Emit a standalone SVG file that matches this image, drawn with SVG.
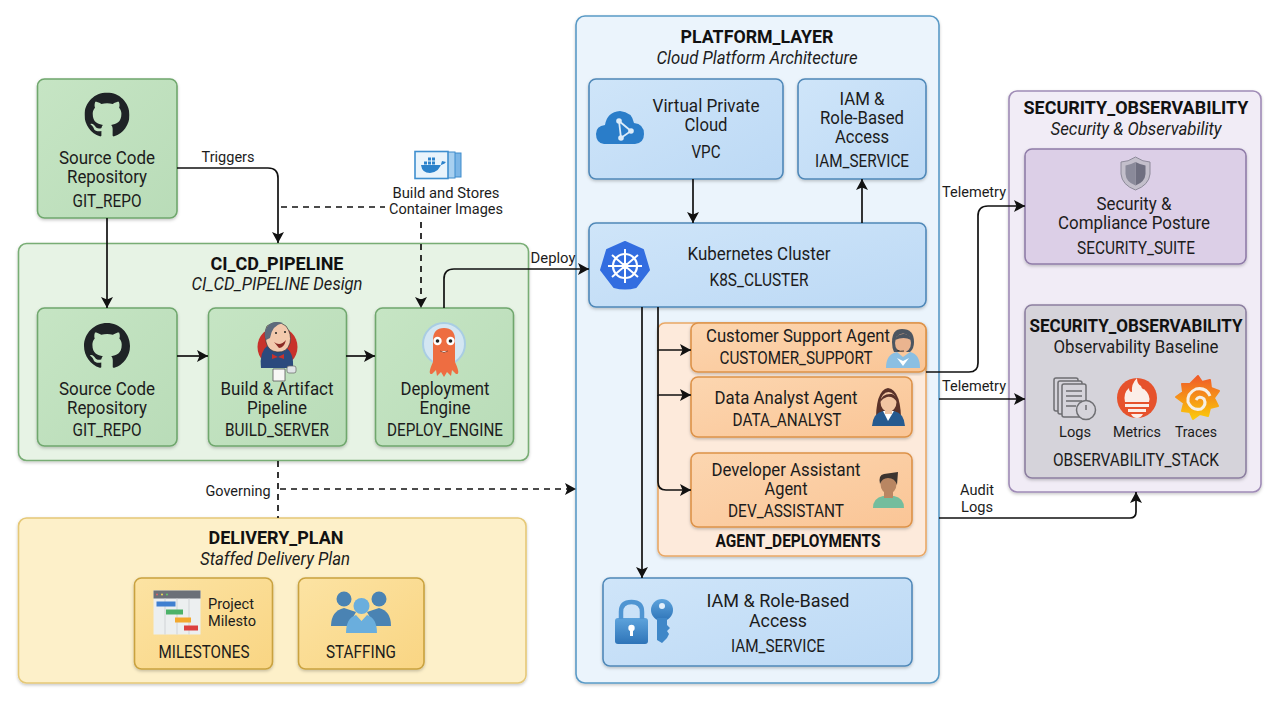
<svg xmlns="http://www.w3.org/2000/svg" xmlns:xlink="http://www.w3.org/1999/xlink" width="1280" height="714" viewBox="0 0 1280 714">
<style>
text{font-family:Roboto,"Liberation Sans",sans-serif;fill:#1c1c1c;text-anchor:middle}
.n{font-size:18px}
.c{font-size:17.5px}
.t{font-size:19px;font-weight:700;fill:#111}
.s{font-size:18px;font-style:italic}
.l{font-size:15px}
.box{stroke-width:1.6}
.g1{fill:url(#gGreen);stroke:#6fa76d}
.g0{fill:#e7f3e5;stroke:#78ad74}
.y0{fill:#fdf0c9;stroke:#e5c877}
.y1{fill:url(#gYellow);stroke:#c9a23f}
.b0{fill:#ebf4fc;stroke:#5a9ac6}
.b1{fill:url(#gBlue);stroke:#4f88b8}
.o0{fill:#fdeadb;stroke:#e9a866}
.o1{fill:url(#gOrange);stroke:#dd9248}
.p0{fill:#f1ecf6;stroke:#9f8bb6}
.p1{fill:#dccfe7;stroke:#8f7ca8}
.p2{fill:#d5d3da;stroke:#8c7fa0}
.ln{fill:none;stroke:#111;stroke-width:1.7}
.da{stroke-dasharray:6 5}
</style>
<defs>
<linearGradient id="gGreen" x1="0" y1="0" x2="1" y2="1"><stop offset="0" stop-color="#c6e5c4"/><stop offset="1" stop-color="#b9dcb8"/></linearGradient>
<linearGradient id="gYellow" x1="0" y1="0" x2="1" y2="1"><stop offset="0" stop-color="#fce3a3"/><stop offset="1" stop-color="#f9d583"/></linearGradient>
<linearGradient id="gBlue" x1="0" y1="0" x2="1" y2="1"><stop offset="0" stop-color="#cfe5f9"/><stop offset="1" stop-color="#bcd9f5"/></linearGradient>
<linearGradient id="gOrange" x1="0" y1="0" x2="1" y2="1"><stop offset="0" stop-color="#fcd6b0"/><stop offset="1" stop-color="#fac596"/></linearGradient>
<linearGradient id="gSteel" x1="0" y1="0" x2="0" y2="1"><stop offset="0" stop-color="#5da3dc"/><stop offset="1" stop-color="#2e74b8"/></linearGradient>
<linearGradient id="gGraf" x1="0" y1="0" x2="0" y2="1"><stop offset="0" stop-color="#f05a28"/><stop offset="1" stop-color="#fbca0a"/></linearGradient>
<filter id="sh" x="-5%" y="-5%" width="110%" height="112%"><feDropShadow dx="0" dy="1.5" stdDeviation="1.5" flood-color="#000" flood-opacity=".22"/></filter>
<marker id="ah" markerUnits="userSpaceOnUse" markerWidth="14" markerHeight="14" refX="12" refY="7" orient="auto"><path d="M1 1 L12 7 L1 13 L3.5 7Z" fill="#111"/></marker>
<symbol id="gh" viewBox="0 0 16 16"><path fill="#1f2326" d="M8 0C3.58 0 0 3.58 0 8c0 3.54 2.29 6.53 5.47 7.59.4.07.55-.17.55-.38 0-.19-.01-.82-.01-1.49-2.01.37-2.53-.49-2.69-.94-.09-.23-.48-.94-.82-1.13-.28-.15-.68-.52-.01-.53.63-.01 1.08.58 1.23.82.72 1.21 1.87.87 2.33.66.07-.52.28-.87.51-1.07-1.78-.2-3.64-.89-3.64-3.95 0-.87.31-1.59.82-2.15-.08-.2-.36-1.02.08-2.12 0 0 .67-.21 2.2.82.64-.18 1.32-.27 2-.27.68 0 1.36.09 2 .27 1.53-1.04 2.2-.82 2.2-.82.44 1.1.16 1.92.08 2.12.51.56.82 1.27.82 2.15 0 3.07-1.87 3.75-3.65 3.95.29.25.54.73.54 1.48 0 1.07-.01 1.93-.01 2.2 0 .21.15.46.55.38A8.013 8.013 0 0016 8c0-4.42-3.58-8-8-8z"/></symbol>
</defs>
<rect width="1280" height="714" fill="#fff"/>

<g id="CI_CD_PIPELINE">
<rect class="box g0" x="18.5" y="243.5" width="510" height="217" rx="8" filter="url(#sh)"/>
<text class="t" x="277" y="270" textLength="133" lengthAdjust="spacingAndGlyphs">CI_CD_PIPELINE</text>
<text class="s" x="277" y="290" textLength="171" lengthAdjust="spacingAndGlyphs">CI_CD_PIPELINE Design</text>
</g>

<g id="GIT_REPO_TOP">
<rect class="box g1" x="37.5" y="79" width="139.500" height="139" rx="7" filter="url(#sh)"/>
<use href="#gh" x="84.500" y="92.500" width="45" height="45"/>
<text class="n" x="107" y="164" textLength="96" lengthAdjust="spacingAndGlyphs">Source Code</text>
<text class="n" x="107" y="183" textLength="80" lengthAdjust="spacingAndGlyphs">Repository</text>
<text class="c" x="107" y="207" textLength="69" lengthAdjust="spacingAndGlyphs">GIT_REPO</text>
</g>

<g id="GIT_REPO">
<rect class="box g1" x="37.5" y="308" width="139.500" height="138" rx="7" filter="url(#sh)"/>
<use href="#gh" x="84" y="323" width="46" height="46"/>
<text class="n" x="107" y="395" textLength="96" lengthAdjust="spacingAndGlyphs">Source Code</text>
<text class="n" x="107" y="414" textLength="80" lengthAdjust="spacingAndGlyphs">Repository</text>
<text class="c" x="107" y="436" textLength="69" lengthAdjust="spacingAndGlyphs">GIT_REPO</text>
</g>

<g id="BUILD_SERVER">
<rect class="box g1" x="208.500" y="308" width="138" height="138" rx="7" filter="url(#sh)"/>
<circle cx="277.500" cy="347" r="20" fill="#c8322b"/>
<path d="M261 368 Q259 352 268 345 L285 347 Q294 352 293 368 Z" fill="#2b4a7d"/>
<path d="M267 326 Q277 319 286 326 Q292 334 290 343 Q287 353 277 352 Q268 351 266 342 Q264 332 267 326Z" fill="#f2c9ad" stroke="#3a3a3a" stroke-width=".7"/>
<path d="M267 327 Q272 320 283 323 Q272 325 270 338 L266 340 Q263 333 267 327Z" fill="#5d6a7c"/>
<path d="M274 342 Q280 347 286 340 Q284 348 279 348Z" fill="#8a2a24"/>
<circle cx="276" cy="333" r="1" fill="#222"/><circle cx="285" cy="332" r="1" fill="#222"/>
<path d="M272 354 L278 357 L284 354 L284 359 L278 357 L272 359Z" fill="#c8322b"/>
<path d="M273 369 L273 381 L285 381 L285 369Z" fill="#f7f7f5" stroke="#555" stroke-width=".8"/>
<rect x="287" y="366" width="9" height="7" rx="2" fill="#dfe4e6" stroke="#666" stroke-width=".7"/>
<text class="n" x="277" y="395" textLength="113" lengthAdjust="spacingAndGlyphs">Build &amp; Artifact</text>
<text class="n" x="277" y="414" textLength="60" lengthAdjust="spacingAndGlyphs">Pipeline</text>
<text class="c" x="277" y="436" textLength="104" lengthAdjust="spacingAndGlyphs">BUILD_SERVER</text>
</g>

<g id="DEPLOY_ENGINE">
<rect class="box g1" x="375.500" y="308" width="138" height="138" rx="7" filter="url(#sh)"/>
<circle cx="444" cy="344" r="21" fill="#d3e6f2" stroke="#a9cde3" stroke-width="2"/>
<path d="M433 340 Q433 328 444 328 Q455 328 455 340 L455 362 Q461 375 456 374 L452 370 L451 376 L447 372 L444 377 L441 372 L437 376 L436 370 L432 374 Q427 375 433 362Z" fill="#ee6d41"/>
<circle cx="437.500" cy="341" r="4.200" fill="#fff"/><circle cx="450.500" cy="341" r="4.200" fill="#fff"/>
<circle cx="437.500" cy="341" r="1.800" fill="#222"/><circle cx="450.500" cy="341" r="1.800" fill="#222"/>
<path d="M440 351 Q444 354 448 351" fill="#fff" stroke="#7a2b12" stroke-width=".8"/>
<text class="n" x="445" y="395" textLength="89" lengthAdjust="spacingAndGlyphs">Deployment</text>
<text class="n" x="445" y="414" textLength="51" lengthAdjust="spacingAndGlyphs">Engine</text>
<text class="c" x="445" y="436" textLength="116" lengthAdjust="spacingAndGlyphs">DEPLOY_ENGINE</text>
</g>

<g id="CONTAINER_REGISTRY">
<rect x="449" y="153" width="12" height="24" fill="#7db6e6" stroke="#3f8ccc"/>
<rect x="445" y="152" width="10" height="26" fill="#a8d0f0" stroke="#3f8ccc"/>
<rect x="415" y="151.500" width="33" height="27" fill="#e9f4fc" stroke="#3f8fcf" stroke-width="1.6"/>
<path d="M421 165 H441 Q445 164 446 162 L442 161 Q440 172 430 173 Q422 173 421 165Z" fill="#2b82cb"/>
<rect x="424" y="161.500" width="3" height="3" fill="#2b82cb"/><rect x="428" y="161.500" width="3" height="3" fill="#2b82cb"/><rect x="432" y="161.500" width="3" height="3" fill="#2b82cb"/><rect x="428" y="157.500" width="3" height="3" fill="#2b82cb"/><rect x="432" y="157.500" width="3" height="3" fill="#2b82cb"/>
<text class="l" x="446" y="198" textLength="107" lengthAdjust="spacingAndGlyphs">Build and Stores</text>
<text class="l" x="446" y="214" textLength="114" lengthAdjust="spacingAndGlyphs">Container Images</text>
</g>

<g id="DELIVERY_PLAN">
<rect class="box y0" x="18.500" y="518" width="507.500" height="165" rx="8" filter="url(#sh)"/>
<text class="t" x="276" y="544" textLength="135" lengthAdjust="spacingAndGlyphs">DELIVERY_PLAN</text>
<text class="s" x="275" y="565" textLength="150" lengthAdjust="spacingAndGlyphs">Staffed Delivery Plan</text>
</g>

<g id="MILESTONES">
<rect class="box y1" x="134.500" y="578" width="138" height="91" rx="7" filter="url(#sh)"/>
<rect x="153.500" y="590.500" width="47" height="44" fill="#eceff0"/>
<rect x="153.500" y="590.500" width="47" height="8" fill="#6b7078"/>
<path d="M165 598.500V634.500M177 598.500V634.500M189 598.500V634.500" stroke="#d0d3d6" stroke-width="1"/>
<circle cx="157" cy="594.500" r="1" fill="#d66"/><circle cx="162" cy="594.500" r="1" fill="#ed5"/><circle cx="167" cy="594.500" r="1" fill="#6c6"/>
<rect x="156.500" y="601.500" width="19" height="5" fill="#3f7fd0"/><rect x="166" y="609.500" width="17" height="5" fill="#4cb268"/><rect x="175" y="617.500" width="16" height="5" fill="#f2a82e"/><rect x="184" y="625.500" width="14" height="5" fill="#dc4040"/>
<text class="l" x="231" y="609" textLength="46" lengthAdjust="spacingAndGlyphs">Project</text>
<text class="l" x="232" y="626" textLength="48" lengthAdjust="spacingAndGlyphs">Milesto</text>
<text class="c" x="204" y="658" textLength="91" lengthAdjust="spacingAndGlyphs">MILESTONES</text>
</g>

<g id="STAFFING">
<rect class="box y1" x="298.500" y="578" width="125.500" height="91" rx="7" filter="url(#sh)"/>
<g fill="#4a83b3"><circle cx="344" cy="599" r="7.500"/><circle cx="379" cy="599" r="7.500"/>
<path d="M331 626 Q331 611 344 608 L356 612 L348 626Z"/><path d="M391 626 Q391 611 379 608 L367 612 L375 626Z"/></g>
<circle cx="361.500" cy="606" r="8" fill="#6aaedd"/>
<path d="M346 633 Q346 618 356 615 L361.500 621 L367 615 Q377 618 377 633Z" fill="#6aaedd"/>
<text class="c" x="361" y="658" textLength="70" lengthAdjust="spacingAndGlyphs">STAFFING</text>
</g>

<g id="PLATFORM_LAYER">
<rect class="box b0" x="576" y="16" width="363" height="667" rx="9" filter="url(#sh)"/>
<text class="t" x="757" y="43" textLength="153" lengthAdjust="spacingAndGlyphs">PLATFORM_LAYER</text>
<text class="s" x="757" y="64" textLength="201" lengthAdjust="spacingAndGlyphs">Cloud Platform Architecture</text>
</g>

<g id="VPC">
<rect class="box b1" x="589" y="79" width="194" height="100" rx="7" filter="url(#sh)"/>
<path d="M604 144 Q596 143 596 134 Q596 126 605 125 Q607 112 620 111 Q632 112 634 123 Q644 124 644 134 Q644 143 635 144Z" fill="#2a7dc9"/>
<path d="M619 121 L631 131 L621 138Z" fill="none" stroke="#dcecf9" stroke-width="1.800"/>
<circle cx="619" cy="121" r="2.800" fill="#dcecf9"/><circle cx="631" cy="131" r="2.800" fill="#dcecf9"/><circle cx="621" cy="138" r="2.800" fill="#dcecf9"/>
<text class="n" x="706" y="112" textLength="107" lengthAdjust="spacingAndGlyphs">Virtual Private</text>
<text class="n" x="706" y="131" textLength="43" lengthAdjust="spacingAndGlyphs">Cloud</text>
<text class="c" x="706" y="158" textLength="29" lengthAdjust="spacingAndGlyphs">VPC</text>
</g>

<g id="IAM_SERVICE_TOP">
<rect class="box b1" x="798" y="79" width="128" height="100" rx="7" filter="url(#sh)"/>
<text class="n" x="862" y="105" textLength="45" lengthAdjust="spacingAndGlyphs">IAM &amp;</text>
<text class="n" x="862" y="124" textLength="84" lengthAdjust="spacingAndGlyphs">Role-Based</text>
<text class="n" x="862" y="143" textLength="54" lengthAdjust="spacingAndGlyphs">Access</text>
<text class="c" x="862" y="167" textLength="94" lengthAdjust="spacingAndGlyphs">IAM_SERVICE</text>
</g>

<g id="K8S_CLUSTER">
<rect class="box b1" x="589" y="223" width="337" height="84" rx="7" filter="url(#sh)"/>
<path d="M625 242 L643 250 L649 270 L636 287 Q625 290 614 287 L601 270 L607 250Z" fill="#326de0" stroke="#326de0" stroke-width="2" stroke-linejoin="round"/>
<circle cx="625" cy="266" r="12" fill="none" stroke="#fff" stroke-width="2.200"/>
<circle cx="625" cy="266" r="3.200" fill="#fff"/>
<path d="M625 249V283M612 255L638 277M638 255L612 277M608 266H642" stroke="#fff" stroke-width="2"/>
<text class="n" x="759" y="260" textLength="143" lengthAdjust="spacingAndGlyphs">Kubernetes Cluster</text>
<text class="c" x="759" y="286" textLength="99" lengthAdjust="spacingAndGlyphs">K8S_CLUSTER</text>
</g>

<g id="AGENT_DEPLOYMENTS">
<rect class="box o0" x="658" y="323" width="268" height="233" rx="7" filter="url(#sh)"/>
<text class="t" x="798" y="547" textLength="165" lengthAdjust="spacingAndGlyphs">AGENT_DEPLOYMENTS</text>
</g>

<g id="CUSTOMER_SUPPORT">
<rect class="box o1" x="691" y="323" width="235" height="49" rx="7" filter="url(#sh)"/>
<path d="M886 368 Q886 354 897 352 L903 357 L910 352 Q920 354 920 368Z" fill="#8bbfe2"/>
<path d="M892 342 Q892 329 902 329 Q914 329 914 342 Q914 349 910 352 L894 352 Q892 348 892 342Z" fill="#4c5560"/>
<ellipse cx="903" cy="343" rx="8" ry="9.500" fill="#eab48f"/>
<path d="M895 340 Q897 333 905 334 Q910 335 911 340 Q904 336 895 340Z" fill="#4c5560"/>
<path d="M897 350 Q900 352 904 351" fill="none" stroke="#333" stroke-width="1"/>
<path d="M897 358 L903 366 L909 358 L903 361Z" fill="#fff"/>
<text class="n" x="798" y="342" textLength="184" lengthAdjust="spacingAndGlyphs">Customer Support Agent</text>
<text class="c" x="796" y="364" textLength="153" lengthAdjust="spacingAndGlyphs">CUSTOMER_SUPPORT</text>
</g>

<g id="DATA_ANALYST">
<rect class="box o1" x="691" y="377" width="221" height="60" rx="7" filter="url(#sh)"/>
<path d="M876 426 Q875 390 888 388 Q902 390 901 426Z" fill="#5a3229"/>
<path d="M872 426 Q873 413 883 411 L888 416 L894 411 Q904 413 905 426Z" fill="#265a8f"/>
<path d="M883 411 L888 421 L894 411Z" fill="#fff"/>
<ellipse cx="888.500" cy="402" rx="8" ry="10" fill="#f1c5a2"/>
<path d="M880 402 Q882 393 892 394 Q897 396 897 402 Q893 396 887 397 Q883 398 880 402Z" fill="#5a3229"/>
<rect x="885" y="409" width="7" height="5" fill="#f1c5a2"/>
<text class="n" x="786" y="404" textLength="143" lengthAdjust="spacingAndGlyphs">Data Analyst Agent</text>
<text class="c" x="787" y="426" textLength="109" lengthAdjust="spacingAndGlyphs">DATA_ANALYST</text>
</g>

<g id="DEV_ASSISTANT">
<rect class="box o1" x="691" y="453" width="221" height="74" rx="7" filter="url(#sh)"/>
<path d="M873 508 Q873 498 883 496 L894 496 Q904 498 904 508Z" fill="#74bd9d"/>
<ellipse cx="888.500" cy="484" rx="8" ry="10" fill="#b98662"/>
<rect x="884" y="491" width="9" height="7" fill="#b98662"/>
<path d="M880 484 Q878 475 884 474 L898 472 L897 485 Q895 478 888 478 Q882 478 880 484Z" fill="#3d3530"/>
<text class="n" x="786" y="476" textLength="149" lengthAdjust="spacingAndGlyphs">Developer Assistant</text>
<text class="n" x="786" y="495" textLength="43" lengthAdjust="spacingAndGlyphs">Agent</text>
<text class="c" x="786" y="517" textLength="116" lengthAdjust="spacingAndGlyphs">DEV_ASSISTANT</text>
</g>

<g id="IAM_SERVICE">
<rect class="box b1" x="603" y="578" width="309" height="88" rx="7" filter="url(#sh)"/>
<rect x="615" y="618" width="33" height="26" rx="3" fill="url(#gSteel)"/>
<path d="M621 619 V612 Q621 602 631.500 602 Q642 602 642 612 V619" fill="none" stroke="#4f95d2" stroke-width="4.500"/>
<circle cx="631.500" cy="628" r="3.200" fill="#fff"/><rect x="630" y="629" width="3" height="7" fill="#fff"/>
<circle cx="662" cy="610" r="11" fill="url(#gSteel)"/>
<circle cx="662" cy="606" r="3" fill="#e3f0fb"/>
<path d="M657 618 H667 V625 L670 628 L667 631 L669 634 L667 638 L662 643 L657 640Z" fill="#3f87c8"/>
<text class="n" x="778" y="607" textLength="143" lengthAdjust="spacingAndGlyphs">IAM &amp; Role-Based</text>
<text class="n" x="778" y="627" textLength="58" lengthAdjust="spacingAndGlyphs">Access</text>
<text class="c" x="778" y="652" textLength="94" lengthAdjust="spacingAndGlyphs">IAM_SERVICE</text>
</g>

<g id="SECURITY_OBSERVABILITY">
<rect class="box p0" x="1009" y="91" width="252" height="401" rx="8" filter="url(#sh)"/>
<text class="t" x="1136" y="114" textLength="225" lengthAdjust="spacingAndGlyphs">SECURITY_OBSERVABILITY</text>
<text class="s" x="1136" y="135" textLength="171" lengthAdjust="spacingAndGlyphs">Security &amp; Observability</text>
</g>

<g id="SECURITY_SUITE">
<rect class="box p1" x="1025" y="149" width="221" height="115" rx="7" filter="url(#sh)"/>
<path d="M1135.500 157 Q1143 162 1150 162 V174 Q1149 185 1135.500 190 Q1122 185 1121 174 V162 Q1128 162 1135.500 157Z" fill="#c3bfcb" stroke="#8d8a99" stroke-width="1"/>
<path d="M1135.500 162 Q1141 165 1145.500 165.500 V174 Q1145 182 1135.500 185.500Z" fill="#6f6f80"/>
<path d="M1135.500 162 Q1130 165 1125.500 165.500 V174 Q1126 182 1135.500 185.500Z" fill="#8a8a9a"/>
<text class="n" x="1134" y="210" textLength="75" lengthAdjust="spacingAndGlyphs">Security &amp;</text>
<text class="n" x="1134" y="229" textLength="152" lengthAdjust="spacingAndGlyphs">Compliance Posture</text>
<text class="c" x="1136" y="254" textLength="118" lengthAdjust="spacingAndGlyphs">SECURITY_SUITE</text>
</g>

<g id="OBSERVABILITY_STACK">
<rect class="box p2" x="1025" y="305" width="221" height="173" rx="7" filter="url(#sh)"/>
<text class="t" x="1136" y="332" textLength="213" lengthAdjust="spacingAndGlyphs">SECURITY_OBSERVABILITY</text>
<text class="n" x="1136" y="353" textLength="165" lengthAdjust="spacingAndGlyphs">Observability Baseline</text>
<g fill="#d5d3da" stroke="#6e6e72" stroke-width="1.500">
<rect x="1054" y="378" width="24" height="33" rx="2"/>
<rect x="1058" y="381" width="24" height="33" rx="2"/>
<rect x="1062" y="384" width="24" height="33" rx="2"/>
<path d="M1066 391H1082M1066 396H1082M1066 401H1082M1066 406H1076" fill="none"/>
<circle cx="1086" cy="410" r="9.500"/>
<path d="M1086 405V410" fill="none"/>
</g>
<circle cx="1137" cy="398" r="20" fill="#e6522c"/>
<path d="M1125 402 Q1123 393 1129 388 Q1129 392 1132 392 Q1131 384 1137 378 Q1137 384 1141 386 Q1142 390 1144 389 Q1151 395 1149 402Z" fill="#fbeee8"/>
<rect x="1125" y="404" width="24" height="3" fill="#fbeee8"/><rect x="1128" y="409" width="18" height="3" fill="#fbeee8"/><path d="M1131 414H1143Q1141 418 1137 418Q1133 418 1131 414Z" fill="#fbeee8"/>
<path d="M1198 376 L1202 382 L1210 380 L1211 388 L1219 391 L1214 398 L1218 406 L1210 408 L1208 416 L1200 414 L1193 419 L1190 412 L1182 411 L1184 403 L1176 397 L1183 392 L1182 384 L1190 384Z" fill="url(#gGraf)" stroke="url(#gGraf)" stroke-linejoin="round" stroke-width="2"/>
<path d="M1210 396 Q1206 387 1196 389 Q1187 393 1188 402 Q1192 411 1201 409 Q1207 405 1204 399 Q1199 395 1196 400" fill="none" stroke="#f6efe6" stroke-width="3"/>
<text class="l" x="1075" y="437" textLength="32" lengthAdjust="spacingAndGlyphs">Logs</text>
<text class="l" x="1137" y="437" textLength="48" lengthAdjust="spacingAndGlyphs">Metrics</text>
<text class="l" x="1196" y="437" textLength="42" lengthAdjust="spacingAndGlyphs">Traces</text>
<text class="c" x="1136" y="466" textLength="166" lengthAdjust="spacingAndGlyphs">OBSERVABILITY_STACK</text>
</g>

<g id="connectors">
<path class="ln" marker-end="url(#ah)" d="M177 168 H268 Q278 168 278 178 V243"/>
<path class="ln" marker-end="url(#ah)" d="M107 218 V308"/>
<path class="ln" marker-end="url(#ah)" d="M177 356 H208"/>
<path class="ln" marker-end="url(#ah)" d="M346 356 H375"/>
<path class="ln" marker-end="url(#ah)" d="M444 308 V279 Q444 269 454 269 H589"/>
<path class="ln da" d="M281 207 H385"/>
<path class="ln da" marker-end="url(#ah)" d="M421 222 V308"/>
<path class="ln da" d="M278 461 V518"/>
<path class="ln da" marker-end="url(#ah)" d="M280 489 H576"/>
<path class="ln" marker-end="url(#ah)" d="M693 179 V223"/>
<path class="ln" marker-end="url(#ah)" d="M862 223 V179"/>
<path class="ln" marker-end="url(#ah)" d="M642 307 V578"/>
<path class="ln" marker-end="url(#ah)" d="M658 307 V350 H691"/>
<path class="ln" marker-end="url(#ah)" d="M658 350 V395 H691"/>
<path class="ln" marker-end="url(#ah)" d="M658 395 V482 Q658 490 666 490 H691"/>
<path class="ln" marker-end="url(#ah)" d="M926 372 H969 Q978 372 978 363 V216 Q978 206 988 206 H1025"/>
<path class="ln" marker-end="url(#ah)" d="M939 399 H1025"/>
<path class="ln" marker-end="url(#ah)" d="M939 518 H1130 Q1136 518 1136 512 V492"/>
<text class="l" x="228" y="162" textLength="53" lengthAdjust="spacingAndGlyphs">Triggers</text>
<text class="l" x="553" y="263" textLength="45" lengthAdjust="spacingAndGlyphs">Deploy</text>
<text class="l" x="238" y="496" textLength="65" lengthAdjust="spacingAndGlyphs">Governing</text>
<text class="l" x="974" y="197" textLength="64" lengthAdjust="spacingAndGlyphs">Telemetry</text>
<text class="l" x="974" y="391" textLength="64" lengthAdjust="spacingAndGlyphs">Telemetry</text>
<text class="l" x="977" y="495" textLength="34" lengthAdjust="spacingAndGlyphs">Audit</text>
<text class="l" x="977" y="512" textLength="32" lengthAdjust="spacingAndGlyphs">Logs</text>
</g>
</svg>
